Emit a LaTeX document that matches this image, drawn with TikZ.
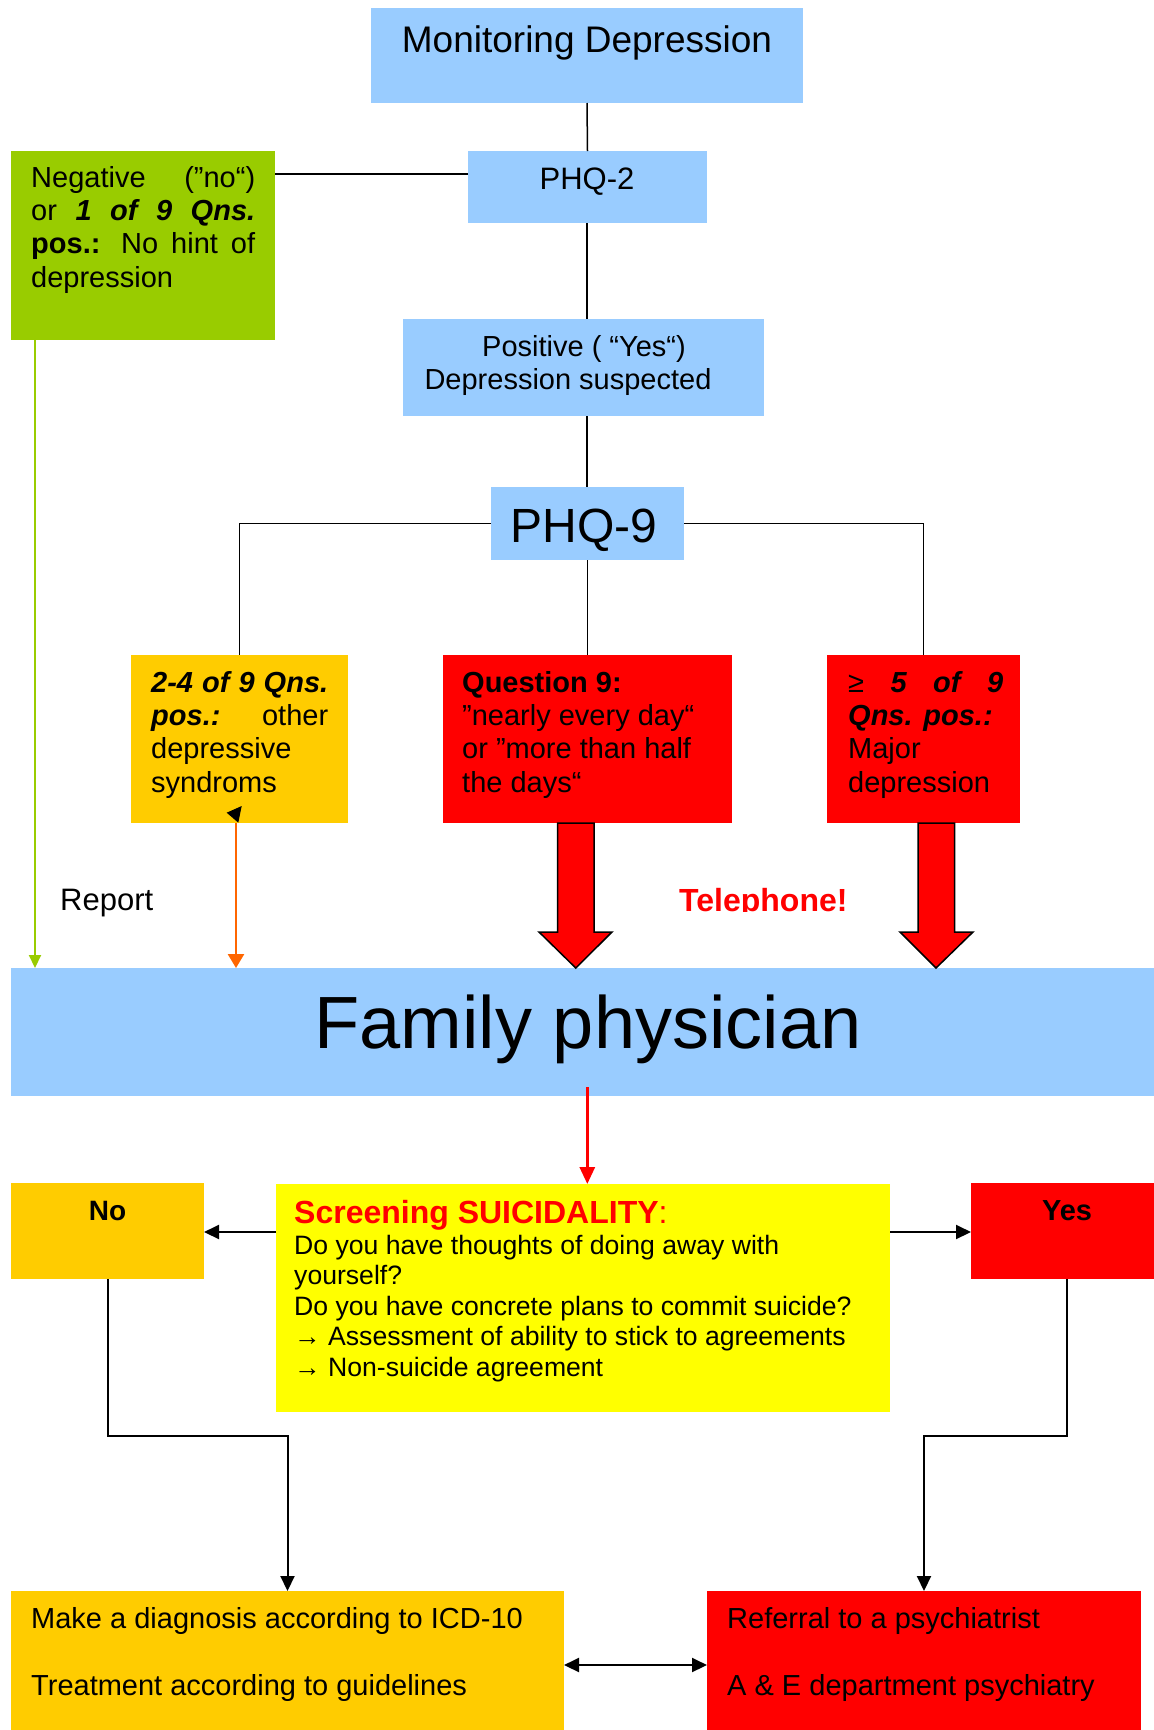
\documentclass[tikz,border=0pt]{standalone}
\usepackage{fontspec}
\setmainfont{Liberation Sans}
\usetikzlibrary{arrows.meta}

\definecolor{skyblue}{HTML}{99CCFF}
\definecolor{leafgreen}{HTML}{99CC00}
\definecolor{amber}{HTML}{FFCC00}
\definecolor{alarmred}{HTML}{FF0000}
\definecolor{lemon}{HTML}{FFFF00}
\definecolor{tangerine}{HTML}{FF6600}

\newcommand{\fsz}[2]{\fontsize{#1}{#2}\selectfont}
\newcommand{\bi}[1]{\textbf{\textit{#1}}}

\begin{document}
\begin{tikzpicture}[x=1pt,y=-1pt,
  box/.style={anchor=north west, inner sep=0pt, outer sep=0pt, draw=none},
  % multi-line texts are placed by the baseline of their last line
  txt/.style={anchor=base west, inner sep=0pt, align=left, font=\fsz{29}{33.3}},
  ctxt/.style={anchor=base, inner sep=0pt, align=center},
  link/.style={draw=black, line width=1.5pt},
  arr/.style={draw=black, line width=2pt, -{Triangle[length=15pt,width=14pt]}},
  twoarr/.style={draw=black, line width=2pt, {Triangle[length=15pt,width=14pt]}-{Triangle[length=15pt,width=14pt]}},
  blockarrow/.style={fill=alarmred, draw=black, line width=1.5pt, line join=miter},
]
\useasboundingbox (0,0) rectangle (1154,1730);

% ---------- boxes ----------
\node[box, fill=skyblue, minimum width=432pt, minimum height=95pt] (mon) at (371,8) {};
\node[box, fill=skyblue, minimum width=239pt, minimum height=72pt] (phq2) at (468,151) {};
\node[box, fill=leafgreen, minimum width=264pt, minimum height=189pt] (neg) at (11,151) {};
\node[box, fill=skyblue, minimum width=361pt, minimum height=97pt] (pos) at (403,319) {};
\node[box, fill=skyblue, minimum width=193pt, minimum height=73pt] (phq9) at (491,487) {};
\node[box, fill=amber, minimum width=217pt, minimum height=168pt] (yel) at (131,655) {};
\node[box, fill=alarmred, minimum width=289pt, minimum height=168pt] (q9) at (443,655) {};
\node[box, fill=alarmred, minimum width=193pt, minimum height=168pt] (maj) at (827,655) {};
\node[box, fill=skyblue, minimum width=1143pt, minimum height=128pt] (fam) at (11,968) {};
\node[box, fill=lemon, minimum width=614pt, minimum height=228pt] (scr) at (276,1184) {};
\node[box, fill=amber, minimum width=193pt, minimum height=96pt] (no) at (11,1183) {};
\node[box, fill=alarmred, minimum width=183pt, minimum height=96pt] (yes) at (971,1183) {};
\node[box, fill=amber, minimum width=553pt, minimum height=139pt] (diag) at (11,1591) {};
\node[box, fill=alarmred, minimum width=434pt, minimum height=139pt] (ref) at (707,1591) {};

% ---------- texts ----------
\node[ctxt, font=\fsz{37}{40}] (montxt) at (587,52) {Monitoring Depression};
\node[ctxt, font=\fsz{31}{33}] (phq2txt) at (587,189) {PHQ-2};
\node[txt] (negtxt) at (31,287) {%
  \makebox[224pt][s]{Negative (”no“)}\\
  \makebox[224pt][s]{or \bi{1 of 9 Qns.}}\\
  \makebox[224pt][s]{\textbf{pos.:} No hint of}\\
  depression};
\node[ctxt, font=\fsz{29}{33}] (postxt) at (584,389) {Positive ( “Yes“)\\ Depression suspected\hspace*{32pt}};
\node[ctxt, font=\fsz{48}{50}] (phq9txt) at (584,542) {PHQ-9};
\node[txt] (yeltxt) at (151,792) {%
  \makebox[177pt][s]{\bi{2-4 of 9 Qns.}}\\
  \makebox[177pt][s]{\bi{pos.:} other}\\
  depressive\\
  syndroms};
\node[txt] (q9txt) at (462,792) {%
  \textbf{Question 9:}\\
  ”nearly every day“\\
  or ”more than half\\
  the days“};
\node[txt] (majtxt) at (848,792) {%
  \makebox[155pt][s]{≥ \bi{5 of 9}}\\
  \bi{Qns. pos.:}\\
  Major\\
  depression};
\node[anchor=base west, inner sep=0pt, font=\fsz{31}{33}] (report) at (60,910) {Report};
\begin{scope}
  \clip (600,860) rectangle (900,911);
  \node[anchor=base west, inner sep=0pt, font=\fsz{32}{34}\bfseries, text=alarmred] (phone) at (679,911) {Telephone!};
\end{scope}
\node[ctxt, font=\fsz{74}{80}] (famtxt) at (588,1048) {Family physician};
\node[anchor=base west, inner sep=0pt, font=\fsz{32}{34}, text=alarmred] (scrtitle) at (294,1223) {\textbf{Screening SUICIDALITY}:};
\node[anchor=base west, inner sep=0pt, align=left, font=\fsz{26.6}{30.5}] (scrtxt) at (294,1376) {%
  Do you have thoughts of doing away with\\
  yourself?\\
  Do you have concrete plans to commit suicide?\\
  → Assessment of ability to stick to agreements\\
  → Non-suicide agreement};
\node[ctxt, font=\fsz{28}{30}\bfseries] (notxt) at (107.5,1220) {No};
\node[ctxt, font=\fsz{29}{30}\bfseries] (yestxt) at (1067,1220) {Yes};
\node[anchor=base west, inner sep=0pt, align=left, font=\fsz{29}{67}] (diagtxt) at (31,1695) {%
  Make a diagnosis according to ICD-10\\
  Treatment according to guidelines};
\node[anchor=base west, inner sep=0pt, align=left, font=\fsz{29}{67}] (reftxt) at (727,1695) {%
  Referral to a psychiatrist\\
  A \& E department psychiatry};

% ---------- connectors: upper tree ----------
\draw[link] (mon.south) -- (phq2.north);
\draw[link] (phq2.south -| mon.south) -- (pos.north -| mon.south);
\draw[link] (pos.south -| mon.south) -- (phq9.north -| mon.south);
\coordinate (tap2) at ([yshift=13pt]phq2.west);
\draw[link] (tap2) -- (tap2 -| neg.east);
\draw[link] (phq9.west) -| (yel.north);
\draw[link] (phq9.east) -| (maj.north);
\draw[link] (phq9.south -| q9.north) -- (q9.north);

% ---------- connectors into the family physician ----------
\coordinate (gtop) at ([xshift=24pt]neg.south west);
\draw[draw=leafgreen, line width=2pt, -{Triangle[length=13pt,width=12pt]}] (gtop) -- (gtop |- fam.north);
\coordinate (otop) at (236,823);
\draw[draw=tangerine, line width=2.5pt, -{Triangle[length=14pt,width=16pt]}] (otop) -- (otop |- fam.north);
\fill[black] (226.7,812.7) -- (241.7,806) -- (238.3,822.7) -- cycle;

\draw[blockarrow] (557.6,823) -- (557.6,932) -- (539,932) -- (575.8,968) -- (612,932) -- (594,932) -- (594,823) -- cycle;
\draw[blockarrow] (918,823) -- (918,932) -- (900,932) -- (936,968) -- (973,932) -- (954.5,932) -- (954.5,823) -- cycle;

% ---------- suicidality screening ----------
\coordinate (famtap) at (587.3,1087);
\draw[draw=alarmred, line width=3pt, -{Triangle[length=17pt,width=15pt]}] (famtap) -- (famtap |- scr.north);
\coordinate (scrL) at (276,1232);
\coordinate (scrR) at (890,1232);
\draw[arr] (scrL) -- (scrL -| no.east);
\draw[arr] (scrR) -- (scrR -| yes.west);

\coordinate (elbow) at (0,1435.5);
\coordinate (yesfoot) at (1067,1279);
\draw[arr] (no.south) -- (no.south |- elbow) -| (diag.north);
\draw[arr] (yesfoot) -- (yesfoot |- elbow) -| (ref.north);

\coordinate (mid) at (0,1665);
\draw[twoarr] (diag.east |- mid) -- (ref.west |- mid);

\end{tikzpicture}
\end{document}
